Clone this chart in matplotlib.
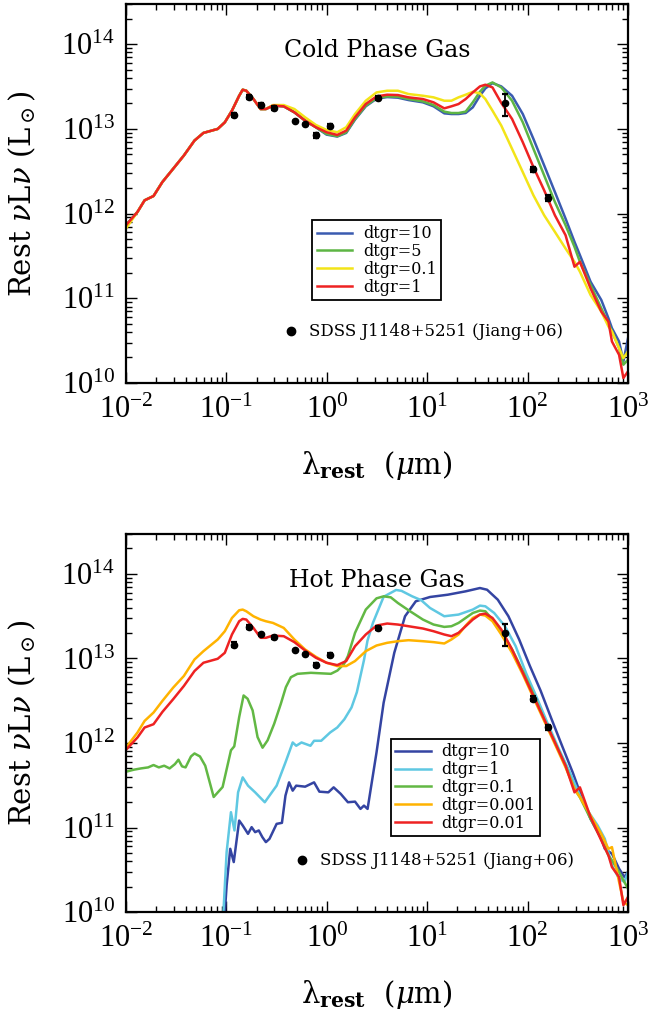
import numpy as np
import matplotlib
matplotlib.use('Agg')
import matplotlib.pyplot as plt
from matplotlib.ticker import LogLocator, NullFormatter, FuncFormatter

plt.rcParams['font.family'] = ['DejaVu Serif']
plt.rcParams['mathtext.fontset'] = 'dejavuserif'

# shared log10 wavelength grid (micron)
logwl_grid = [-2.000, -1.886, -1.815, -1.726, -1.638, -1.531, -1.424, -1.318, -1.229, -1.087,
              -1.016, -0.945, -0.873, -0.838, -0.802, -0.731, -0.660, -0.607, -0.536, -0.429,
              -0.323, -0.216, -0.109, -0.003, 0.104, 0.193, 0.281, 0.388, 0.495, 0.601,
              0.708, 0.814, 0.957, 1.063, 1.170, 1.241, 1.312, 1.383, 1.454, 1.525,
              1.579, 1.650, 1.738, 1.845, 1.952, 2.058, 2.165, 2.272, 2.378, 2.467,
              2.521, 2.627, 2.734, 2.805, 2.840, 2.911, 2.954, 3.000]

# cold phase gas, log10 nuLnu (Lsun) on logwl_grid
cold_dtgr10 = [11.863, 12.020, 12.157, 12.208, 12.373, 12.529, 12.686, 12.863, 12.953, 13.000,
               13.078, 13.216, 13.392, 13.463, 13.451, 13.353, 13.235, 13.235, 13.275, 13.267,
               13.196, 13.098, 13.020, 12.933, 12.910, 12.953, 13.110, 13.267, 13.357, 13.376,
               13.369, 13.341, 13.314, 13.267, 13.184, 13.176, 13.176, 13.188, 13.255, 13.392,
               13.478, 13.541, 13.502, 13.392, 13.176, 12.882, 12.569, 12.255, 11.941, 11.667,
               11.510, 11.196, 10.980, 10.765, 10.647, 10.490, 10.255, 10.529]
cold_dtgr5 = [11.863, 12.020, 12.157, 12.208, 12.373, 12.529, 12.686, 12.863, 12.953, 13.000,
              13.078, 13.216, 13.392, 13.463, 13.451, 13.353, 13.235, 13.235, 13.275, 13.267,
              13.196, 13.098, 13.020, 12.941, 12.914, 12.961, 13.118, 13.275, 13.365, 13.384,
              13.380, 13.353, 13.325, 13.282, 13.204, 13.188, 13.188, 13.204, 13.314, 13.439,
              13.510, 13.549, 13.490, 13.333, 13.078, 12.765, 12.451, 12.137, 11.863, 11.608,
              11.431, 11.157, 10.882, 10.706, 10.608, 10.412, 10.216, 10.275]
cold_dtgr01 = [11.824, 12.020, 12.157, 12.208, 12.373, 12.529, 12.686, 12.863, 12.953, 13.000,
               13.078, 13.216, 13.392, 13.463, 13.451, 13.353, 13.235, 13.235, 13.282, 13.282,
               13.235, 13.137, 13.047, 12.988, 12.961, 13.020, 13.176, 13.333, 13.431, 13.451,
               13.451, 13.412, 13.392, 13.373, 13.333, 13.333, 13.373, 13.404, 13.439, 13.420,
               13.353, 13.216, 13.039, 12.765, 12.490, 12.216, 11.980, 11.784, 11.588, 11.431,
               11.314, 11.039, 10.843, 10.667, 10.608, 10.412, 10.294, 10.373]
cold_dtgr1 = [11.863, 12.020, 12.157, 12.208, 12.373, 12.529, 12.686, 12.863, 12.953, 13.000,
              13.078, 13.216, 13.392, 13.463, 13.451, 13.353, 13.235, 13.235, 13.275, 13.267,
              13.196, 13.098, 13.020, 12.961, 12.929, 12.980, 13.137, 13.294, 13.384, 13.404,
              13.400, 13.373, 13.353, 13.314, 13.243, 13.267, 13.294, 13.353, 13.431, 13.502,
              13.522, 13.490, 13.306, 13.118, 12.843, 12.549, 12.275, 11.980, 11.745, 11.373,
              11.431, 11.118, 10.843, 10.725, 10.490, 10.333, 10.059, 10.137]

# hot phase gas
hot_dtgr10_logwl = [-1.041, -0.998, -0.962, -0.927, -0.873, -0.838, -0.785, -0.749, -0.714, -0.678,
                    -0.642, -0.607, -0.571, -0.500, -0.447, -0.412, -0.376, -0.340, -0.305, -0.216,
                    -0.127, -0.074, 0.015, 0.068, 0.139, 0.210, 0.281, 0.335, 0.370, 0.406,
                    0.495, 0.566, 0.672, 0.779, 0.886, 1.028, 1.205, 1.383, 1.525, 1.596,
                    1.703, 1.809, 1.916, 2.023, 2.129, 2.236, 2.343, 2.449, 2.521, 2.627,
                    2.734, 2.769, 2.840, 2.911, 2.964, 3.000]
hot_dtgr10 = [9.530, 10.316, 10.748, 10.591, 11.082, 11.024, 10.925, 11.004, 10.945, 10.965,
              10.886, 10.827, 10.866, 11.043, 11.055, 11.377, 11.534, 11.436, 11.495, 11.483,
              11.534, 11.424, 11.416, 11.475, 11.397, 11.299, 11.306, 11.220, 11.259, 11.220,
              11.888, 12.477, 13.067, 13.499, 13.676, 13.727, 13.754, 13.794, 13.833, 13.813,
              13.695, 13.499, 13.224, 12.910, 12.620, 12.290, 11.967, 11.652, 11.416, 11.102,
              10.866, 10.748, 10.690, 10.513, 10.414, 10.473]

hot_dtgr1_logwl = [-1.051, -0.998, -0.955, -0.920, -0.884, -0.838, -0.785, -0.714, -0.618, -0.571,
                   -0.500, -0.412, -0.340, -0.305, -0.252, -0.163, -0.127, -0.056, 0.033, 0.104,
                   0.175, 0.246, 0.299, 0.370, 0.405, 0.459, 0.566, 0.690, 0.743, 0.850,
                   0.939, 1.028, 1.170, 1.312, 1.454, 1.525, 1.579, 1.667, 1.774, 1.881,
                   1.987, 2.094, 2.200, 2.307, 2.414, 2.521, 2.609, 2.698, 2.769, 2.840,
                   2.911, 2.964, 3.000]
hot_dtgr1 = [9.530, 10.709, 11.181, 10.965, 11.416, 11.593, 11.495, 11.416, 11.299, 11.377,
             11.495, 11.770, 12.006, 11.967, 12.006, 11.967, 12.026, 12.026, 12.124, 12.183,
             12.281, 12.420, 12.600, 12.980, 13.210, 13.420, 13.730, 13.810, 13.800, 13.735,
             13.690, 13.597, 13.499, 13.519, 13.578, 13.625, 13.617, 13.538, 13.381, 13.145,
             12.820, 12.530, 12.230, 11.940, 11.670, 11.377, 11.181, 11.024, 10.866, 10.552,
             10.395, 10.356, 10.473]

hot_dtgr01_logwl = [-2.000, -1.922, -1.851, -1.780, -1.726, -1.673, -1.620, -1.566, -1.513, -1.478,
                    -1.442, -1.407, -1.353, -1.318, -1.264, -1.211, -1.127, -1.038, -0.955, -0.922,
                    -0.873, -0.829, -0.789, -0.739, -0.690, -0.640, -0.590, -0.524, -0.458, -0.408,
                    -0.358, -0.292, -0.159, 0.040, 0.106, 0.172, 0.210, 0.281, 0.388, 0.495,
                    0.566, 0.637, 0.708, 0.814, 0.957, 1.063, 1.170, 1.241, 1.312, 1.383,
                    1.454, 1.525, 1.579, 1.650, 1.738, 1.845, 1.952, 2.058, 2.165, 2.272,
                    2.378, 2.467, 2.521, 2.627, 2.734, 2.805, 2.840, 2.911, 2.954, 3.000]
hot_dtgr01 = [11.660, 11.684, 11.699, 11.711, 11.739, 11.711, 11.731, 11.699, 11.750, 11.802,
              11.723, 11.711, 11.841, 11.876, 11.841, 11.731, 11.361, 11.479, 11.913, 11.960,
              12.306, 12.562, 12.523, 12.385, 12.070, 11.944, 12.031, 12.228, 12.464, 12.660,
              12.778, 12.818, 12.830, 12.818, 12.857, 12.936, 13.028, 13.303, 13.578, 13.711,
              13.735, 13.723, 13.656, 13.570, 13.460, 13.401, 13.373, 13.381, 13.420, 13.479,
              13.538, 13.566, 13.558, 13.460, 13.322, 13.106, 12.851, 12.576, 12.281, 12.006,
              11.731, 11.456, 11.358, 11.102, 10.866, 10.670, 10.611, 10.473, 10.375, 10.277]

hot_dtgr0001 = [11.947, 12.124, 12.261, 12.360, 12.497, 12.654, 12.792, 12.988, 13.086, 13.224,
                13.322, 13.479, 13.570, 13.578, 13.558, 13.499, 13.460, 13.440, 13.420, 13.361,
                13.224, 13.106, 13.020, 12.949, 12.910, 12.910, 12.969, 13.086, 13.153, 13.185,
                13.204, 13.216, 13.204, 13.193, 13.177, 13.224, 13.283, 13.389, 13.479, 13.519,
                13.507, 13.440, 13.283, 13.067, 12.811, 12.536, 12.261, 11.986, 11.711, 11.456,
                11.358, 11.141, 10.925, 10.748, 10.768, 10.356, 10.120, 10.081]
hot_dtgr001 = [11.919, 12.065, 12.183, 12.222, 12.367, 12.517, 12.674, 12.851, 12.949, 12.996,
               13.067, 13.283, 13.440, 13.468, 13.460, 13.361, 13.244, 13.244, 13.271, 13.263,
               13.193, 13.094, 13.008, 12.949, 12.921, 12.969, 13.145, 13.283, 13.389, 13.413,
               13.401, 13.381, 13.354, 13.322, 13.283, 13.263, 13.303, 13.381, 13.460, 13.519,
               13.530, 13.479, 13.342, 13.106, 12.831, 12.556, 12.281, 12.006, 11.731, 11.416,
               11.475, 11.122, 10.847, 10.670, 10.532, 10.414, 10.081, 10.179]

# SDSS J1148+5251 photometry (Jiang+06)
obs_wl = [0.118, 0.168, 0.220, 0.296, 0.483, 0.608, 0.778, 1.07, 3.20, 60.0, 114.0, 161.0]
obs_L = [1.46e13, 2.38e13, 1.92e13, 1.77e13, 1.25e13, 1.14e13, 8.4e12, 1.09e13, 2.30e13,
         2.0e13, 3.33e12, 1.53e12]
obs_err = [0.9e12, 1.2e12, 0.9e12, 0.8e12, 0.0, 0.0, 0.5e12, 0.6e12, 1.3e12,
           5.8e12, 0.22e12, 0.12e12]


def decade(v, pos):
    return r'$\mathregular{10^{%d}}$' % int(round(np.log10(v)))


def draw_panel(ax, curves, title, leg_anchor, sdss_x):
    for wl, lum, col, lab in curves:
        ax.plot(np.power(10.0, wl), np.power(10.0, lum), color=col, lw=1.8, label=lab)
    ax.errorbar(obs_wl, obs_L, yerr=obs_err, fmt='o', color='black', ms=4.5,
                elinewidth=1.3, capsize=2.5, capthick=1.6, zorder=5)

    ax.set_xscale('log')
    ax.set_yscale('log')
    ax.set_xlim(1e-2, 1e3)
    ax.set_ylim(1e10, 3e14)

    for axis in (ax.xaxis, ax.yaxis):
        axis.set_major_locator(LogLocator(base=10, numticks=20))
        axis.set_minor_locator(LogLocator(base=10, subs=np.arange(2, 10), numticks=20))
        axis.set_major_formatter(FuncFormatter(decade))
        axis.set_minor_formatter(NullFormatter())
    ax.tick_params(which='both', direction='in', top=True, right=True, width=1.0,
                   labelsize=22, labelfontfamily='Liberation Serif')
    ax.tick_params(which='major', length=8)
    ax.tick_params(which='minor', length=4)
    ax.tick_params(axis='x', pad=9)
    ax.tick_params(axis='y', pad=8)
    for sp in ax.spines.values():
        sp.set_linewidth(1.6)

    ax.set_xlabel(r'λ$_{\mathbf{rest}}$  ($\mu$m)', fontsize=21, va='top')
    ax.xaxis.set_label_coords(0.5, -0.175)
    ax.set_ylabel(r'Rest $\nu$L$\nu$ (L$_\odot$)', fontsize=21, va='center')
    ax.yaxis.set_label_coords(-0.207, 0.5)

    ax.text(0.5, 0.876, title, transform=ax.transAxes, ha='center', va='center',
            fontsize=17)

    leg = ax.legend(loc='upper left', bbox_to_anchor=leg_anchor, borderaxespad=0,
                    fancybox=False, edgecolor='black', fontsize=11.5, handlelength=2.2,
                    handletextpad=0.7, labelspacing=0.05, borderpad=0.3, framealpha=1)
    leg.get_frame().set_linewidth(1.3)

    ax.plot([sdss_x], [0.137], 'o', color='black', ms=6, transform=ax.transAxes,
            clip_on=False)
    ax.text(sdss_x + 0.036, 0.137, 'SDSS J1148+5251 (Jiang+06)', transform=ax.transAxes,
            ha='left', va='center', fontsize=12)


fig = plt.figure(figsize=(6.52, 10.10), dpi=100)
ax_top = fig.add_axes([0.1933, 0.6208, 0.7699, 0.3754])
ax_bot = fig.add_axes([0.1933, 0.0970, 0.7699, 0.3747])

cold_curves = [
    (logwl_grid, cold_dtgr10, '#3a5bb0', 'dtgr=10'),
    (logwl_grid, cold_dtgr5, '#5db544', 'dtgr=5'),
    (logwl_grid, cold_dtgr01, '#f3e418', 'dtgr=0.1'),
    (logwl_grid, cold_dtgr1, '#ee2222', 'dtgr=1'),
]
hot_curves = [
    (hot_dtgr10_logwl, hot_dtgr10, '#3444a2', 'dtgr=10'),
    (hot_dtgr1_logwl, hot_dtgr1, '#5fc8e2', 'dtgr=1'),
    (hot_dtgr01_logwl, hot_dtgr01, '#62b844', 'dtgr=0.1'),
    (logwl_grid, hot_dtgr0001, '#ffb300', 'dtgr=0.001'),
    (logwl_grid, hot_dtgr001, '#ee2222', 'dtgr=0.01'),
]

draw_panel(ax_top, cold_curves, 'Cold Phase Gas', (0.370, 0.429), 0.329)
draw_panel(ax_bot, hot_curves, 'Hot Phase Gas', (0.527, 0.458), 0.350)

fig.savefig('out.png', dpi=100)
